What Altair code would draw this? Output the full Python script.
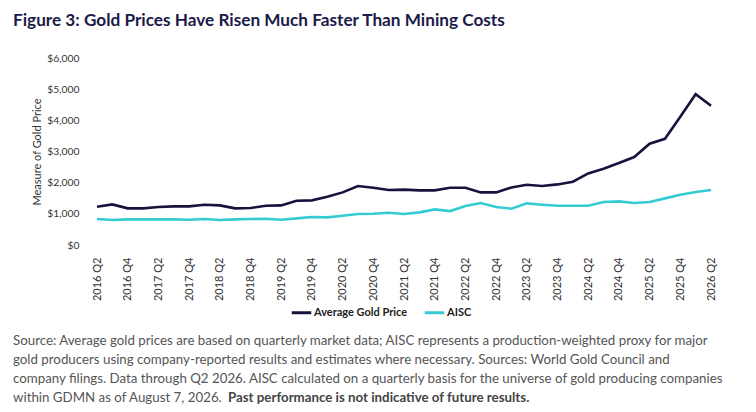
import altair as alt
import pandas as pd

quarters = [f"{y} Q{q}" for y in range(2016, 2027) for q in range(1, 5)]
quarters = quarters[quarters.index("2016 Q2"):quarters.index("2026 Q2") + 1]

gold = [1229, 1303, 1175, 1175, 1218, 1239, 1239, 1293, 1271, 1175, 1186,
        1260, 1271, 1421, 1432, 1549, 1688, 1891, 1838, 1763, 1776, 1752,
        1752, 1838, 1838, 1688, 1688, 1848, 1934, 1891, 1944, 2030, 2297,
        2447, 2628, 2821, 3248, 3408, 4115, 4840, 4466]
aisc = [833, 801, 823, 823, 823, 823, 812, 833, 801, 823, 833,
        844, 812, 855, 897, 887, 940, 994, 1004, 1036, 994, 1047,
        1143, 1089, 1250, 1346, 1218, 1164, 1335, 1293, 1261, 1261, 1261,
        1378, 1400, 1346, 1378, 1496, 1613, 1698, 1763]

series_names = ["Average Gold Price", "AISC"]
series_colors = ["#16133f", "#35cbd3"]
tick_labels = [q for q in quarters if q.endswith("Q2") or q.endswith("Q4")]

title_text = "Figure 3: Gold Prices Have Risen Much Faster Than Mining Costs"
foot_lines = [
    "Source: Average gold prices are based on quarterly market data; AISC represents a production-weighted proxy for major",
    "gold producers using company-reported results and estimates where necessary. Sources: World Gold Council and",
    "company filings. Data through Q2 2026. AISC calculated on a quarterly basis for the universe of gold producing companies",
    "within GDMN as of August 7, 2026.",
]
foot_bold = "Past performance is not indicative of future results."

df = pd.DataFrame({
    "quarter": quarters * 2,
    "series": [series_names[0]] * len(quarters) + [series_names[1]] * len(quarters),
    "value": gold + aisc,
})

FONT = "Lato"

lines = alt.Chart(df).mark_line(strokeWidth=2.6).encode(
    x=alt.X("quarter:O", sort=quarters, title=None,
            scale=alt.Scale(padding=0),
            axis=alt.Axis(values=tick_labels, labelAngle=-90, ticks=False, domain=False,
                          labelPadding=12, labelFontSize=11, labelColor="#333",
                          labelFont=FONT)),
    y=alt.Y("value:Q", title="Measure of Gold Price",
            scale=alt.Scale(domain=[0, 6000], nice=False),
            axis=alt.Axis(values=[0, 1000, 2000, 3000, 4000, 5000, 6000], format="$,.0f",
                          grid=False, ticks=False, domain=False, labelPadding=18,
                          labelFontSize=10.3, labelColor="#333", labelFont=FONT,
                          titleFontSize=11, titleFontWeight="normal", titleColor="#333",
                          titleFont=FONT, titlePadding=4)),
    color=alt.Color("series:N", title=None,
                    scale=alt.Scale(domain=series_names, range=series_colors),
                    legend=alt.Legend(orient="none", legendX=193, legendY=243,
                                      direction="horizontal", symbolType="stroke",
                                      symbolSize=380, symbolStrokeWidth=3,
                                      labelFont=FONT, labelFontSize=11,
                                      labelFontWeight="bold", labelColor="#222",
                                      labelOffset=1, columnPadding=10)),
)

foot = alt.Chart().mark_text(align="left", baseline="middle", font=FONT, fontSize=13.3,
                             color="#555", lineHeight=19).encode(
    x=alt.value(-84), y=alt.value(283), text=alt.value(foot_lines))

foot_b = alt.Chart().mark_text(align="left", baseline="middle", font=FONT, fontSize=13.3,
                               color="#444", fontWeight="bold").encode(
    x=alt.value(131), y=alt.value(340), text=alt.value(foot_bold))

chart = alt.layer(lines, foot, foot_b).properties(
    width=614, height=187,
    title=alt.Title(title_text, anchor="start", frame="group", dx=-84, offset=24,
                    font=FONT, fontSize=17.2, fontWeight="bold", color="#1b1a48"),
    autosize=alt.AutoSizeParams(type="none"),
    padding={"left": 89, "top": 50, "right": 37, "bottom": 160},
).configure_view(stroke=None)

chart.save("out.html", embed_options={"renderer": "svg", "actions": False})
